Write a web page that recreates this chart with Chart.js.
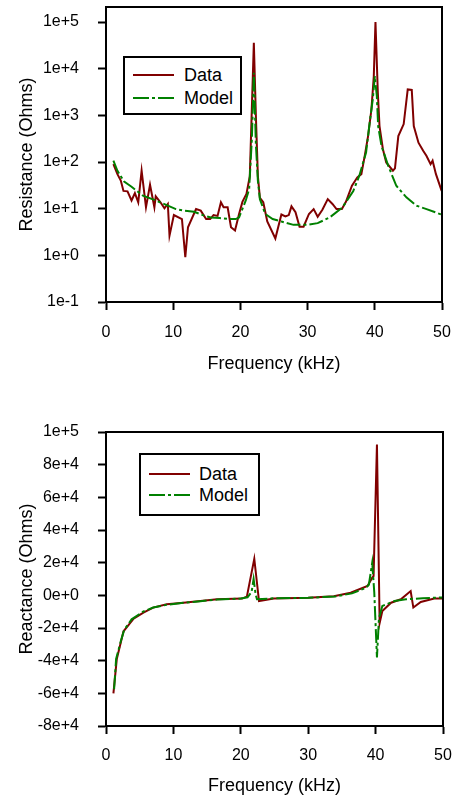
<!DOCTYPE html>
<html><head><meta charset="utf-8">
<script src="https://cdn.jsdelivr.net/npm/chart.js@4.4.1/dist/chart.umd.min.js"></script>
<style>
html,body{margin:0;padding:0;background:#fff;}
body{width:455px;height:798px;position:relative;overflow:hidden;font-family:"Liberation Sans",Arial,sans-serif;}
canvas{position:absolute;left:0;}
#c1{top:0}
#c2{top:400px}
.lbox{position:absolute;border:2px solid #000;background:#fff;box-sizing:border-box;}
.ltxt{position:absolute;font-size:18px;line-height:20px;color:#000;white-space:nowrap;}
svg.ls{position:absolute;overflow:visible;}
</style></head>
<body>
<canvas id="c1" width="455" height="400"></canvas>
<canvas id="c2" width="455" height="398"></canvas>

<div class="lbox" style="left:123px;top:56px;width:119px;height:59px;"></div>
<svg class="ls" style="left:133px;top:70px" width="41" height="32"><line x1="0" y1="5" x2="41" y2="5" stroke="#800000" stroke-width="2"/><line x1="0" y1="28" x2="41" y2="28" stroke="#008000" stroke-width="2" stroke-dasharray="16 3 3 3"/></svg>
<div class="ltxt" style="left:184px;top:65px;">Data</div>
<div class="ltxt" style="left:184px;top:88px;">Model</div>

<div class="lbox" style="left:139px;top:453px;width:121px;height:63px;"></div>
<svg class="ls" style="left:149px;top:469px" width="41" height="32"><line x1="0" y1="5" x2="41" y2="5" stroke="#800000" stroke-width="2"/><line x1="0" y1="26" x2="41" y2="26" stroke="#008000" stroke-width="2" stroke-dasharray="16 3 3 3"/></svg>
<div class="ltxt" style="left:199px;top:464px;">Data</div>
<div class="ltxt" style="left:199px;top:485px;">Model</div>

<script>
// ---- Resistance (top chart) ----
const resFreqData = [1.1,1.7,2.2,2.6,3.2,3.8,4.3,4.8,5.3,5.95,6.55,7.2,7.4,8.1,8.7,9.2,9.45,10.1,11.3,11.8,12.2,13.4,14.1,14.9,15.5,16.0,16.6,17.1,17.5,18.1,18.6,19.2,19.8,20.3,20.9,21.4,22.0,22.3,22.6,22.9,23.4,24.0,25.2,26.1,26.7,27.2,27.6,28.2,28.8,29.4,30.2,30.9,31.5,32.2,33.0,33.7,34.3,35.1,35.7,36.6,37.4,38.0,38.5,39.0,39.5,39.85,40.1,40.45,40.7,41.2,41.7,42.7,43.0,43.5,44.3,44.9,45.5,45.8,46.5,47.2,47.7,48.3,48.6,49.1,49.95];
const resData = [90,55,40,24,23.5,15,21.6,13.7,65,10.7,32.5,10.7,18.4,13.7,10.2,12.6,2.65,7.3,6.0,0.91,4.0,9.8,9.1,6.0,6.0,7.3,7.0,13.7,10.7,10.7,4.0,3.4,7.7,14,20.6,50,36000,1000,50,17,13.7,5.3,2.3,7.5,6.8,7.3,11.2,8.4,4.1,4.1,7.7,9.8,6.7,9.5,16,12.6,9.8,9.8,14,31,47,55,135,360,1350,6900,100000,3100,590,190,98,65,73,360,650,3600,3500,590,260,174,135,90,107,55,24];
const resFreqModel = [1.1,1.7,2.7,3.8,5.5,7.4,10.4,11.6,13.1,14.6,15.6,16.9,18.3,19.3,19.8,20.8,21.3,21.7,21.85,22.0,22.15,22.3,22.6,22.9,23.7,24.8,26.1,27.9,29.9,31.5,33.3,35.2,36.8,37.7,38.7,39.3,39.7,40.0,40.3,40.5,41.0,42.0,43.2,44.7,46.2,47.7,50.0];
const resModel = [107,65,38,29.5,19,15,9.8,9.1,8.6,7.1,6.5,6.3,6.0,6.0,6.5,15,26,300,1500,8200,1500,250,40,16,7.7,6.0,5.3,4.5,4.5,4.9,6.5,10.7,24,51,160,830,2200,6900,2600,590,220,83,31,17.5,11.6,9.8,7.4];
const resTicks = [0.1,1,10,100,1000,10000,100000];
const resTickLabels = ['1e-1','1e+0','1e+1','1e+2','1e+3','1e+4','1e+5'];

// ---- Reactance (bottom chart) ----
const reaFreqData = [1.1,1.6,2.6,4.1,5.55,7.0,9.0,11.5,14.0,16.5,20.2,20.9,22.0,22.7,24.9,30.0,33.8,36.3,38.8,39.5,39.7,40.2,40.6,41.0,42.3,43.75,45.2,45.6,46.7,48.7,50.0];
const reaData = [-60000,-39000,-22000,-14300,-10600,-7500,-5500,-4500,-3500,-2400,-2000,-800,22400,-3500,-2000,-1500,-500,1600,5700,10800,11800,92400,-17000,-9600,-4500,-2400,2600,-7500,-4100,-2000,-2000];
const reaFreqModel = [1.2,1.5,2.2,2.7,3.8,5.5,7.0,9.0,11.5,14.0,16.5,20.0,21.0,21.6,21.9,22.2,22.4,25.0,30.0,34.0,36.5,38.5,39.0,39.5,39.8,40.2,40.5,41.0,42.8,44.5,47.0,50.0];
const reaModel = [-57500,-39000,-28000,-21200,-14700,-10000,-7500,-5800,-4600,-3600,-2600,-2000,-1200,2000,10000,500,-2400,-1800,-1500,-700,1200,4500,6500,20000,2000,-38000,-14000,-6500,-3500,-2400,-1800,-1300];
const reaTicks = [-80000,-60000,-40000,-20000,0,20000,40000,60000,80000,100000];
const reaTickLabels = ['-8e+4','-6e+4','-4e+4','-2e+4','0e+0','2e+4','4e+4','6e+4','8e+4','1e+5'];

const xTicks = [0,10,20,30,40,50];
const xTitle = 'Frequency (kHz)';

const DATA_COLOR = '#800000';
const MODEL_COLOR = '#008000';
const FONT = '"Liberation Sans", Arial, sans-serif';
Chart.defaults.font.family = FONT;
Chart.defaults.color = '#000';

function pts(xs, ys){ return xs.map((x,i)=>({x:x, y:ys[i]})); }

const boxPlugin = {
  id:'box',
  afterDraw(chart){
    const {ctx, chartArea:a} = chart;
    ctx.save();
    ctx.strokeStyle = '#000';
    ctx.lineWidth = 2;
    ctx.strokeRect(a.left, a.top, a.right - a.left, a.bottom - a.top);
    ctx.restore();
  }
};

function axisCommon(){
  return {
    grid:{display:true, drawOnChartArea:false, drawTicks:true, tickLength:8, tickWidth:2, tickColor:'#000'},
    border:{display:true, color:'#000', width:2}
  };
}
function zeroPad(s){ s.paddingTop = 0; s.paddingBottom = 0; s.paddingLeft = 0; s.paddingRight = 0; }

function makeChart(id, cfg){
  const xAxis = Object.assign(axisCommon(), {
    type:'linear', min:0, max:50,
    afterBuildTicks(s){ s.ticks = xTicks.map(v=>({value:v})); },
    ticks:{font:{size:16}, padding:cfg.xTickPad, autoSkip:false, maxRotation:0},
    title:{display:true, text:xTitle, font:{size:18}, padding:{top:0, bottom:cfg.xTitlePad}},
    afterFit(s){ s.height = cfg.xHeight; zeroPad(s); }
  });
  const yAxis = Object.assign(axisCommon(), {
    type:cfg.yType, min:cfg.yMin, max:cfg.yMax,
    afterBuildTicks(s){ s.ticks = cfg.yTicks.map(v=>({value:v})); },
    ticks:{font:{size:16}, padding:19, autoSkip:false,
      callback:(v)=>{ const i = cfg.yTicks.findIndex(t=>Math.abs(t-v) <= Math.abs(t)*1e-6 + 1e-9); return i>=0 ? cfg.yLabels[i] : ''; }},
    title:{display:true, text:cfg.yTitle, font:{size:18}, padding:{top:16, bottom:0}},
    afterFit(s){ s.width = 106; zeroPad(s); }
  });
  return new Chart(document.getElementById(id), {
    type:'scatter',
    data:{datasets:[
      {label:'Data', data:pts(cfg.fData, cfg.vData), showLine:true, borderColor:DATA_COLOR, backgroundColor:DATA_COLOR, borderWidth:2, pointRadius:0, tension:0, order:1},
      {label:'Model', data:pts(cfg.fModel, cfg.vModel), showLine:true, borderColor:MODEL_COLOR, backgroundColor:MODEL_COLOR, borderWidth:2, borderDash:[14,3,3,3], pointRadius:0, tension:0, order:0}
    ]},
    options:{
      responsive:false, animation:false, devicePixelRatio:1,
      layout:{padding:{left:0, right:cfg.padRight, top:cfg.padTop, bottom:0}},
      plugins:{legend:{display:false}, tooltip:{enabled:false}},
      scales:{x:xAxis, y:yAxis}
    },
    plugins:[boxPlugin]
  });
}

makeChart('c1', {
  fData:resFreqData, vData:resData, fModel:resFreqModel, vModel:resModel,
  yType:'logarithmic', yMin:0.1, yMax:2.1e5, yTicks:resTicks, yLabels:resTickLabels,
  yTitle:'Resistance (Ohms)', xHeight:98, xTitlePad:25, xTickPad:13, padRight:13, padTop:7
});
makeChart('c2', {
  fData:reaFreqData, vData:reaData, fModel:reaFreqModel, vModel:reaModel,
  yType:'linear', yMin:-80000, yMax:100000, yTicks:reaTicks, yLabels:reaTickLabels,
  yTitle:'Reactance (Ohms)', xHeight:72, xTitlePad:1, xTickPad:12, padRight:12, padTop:32
});
</script>
</body></html>
